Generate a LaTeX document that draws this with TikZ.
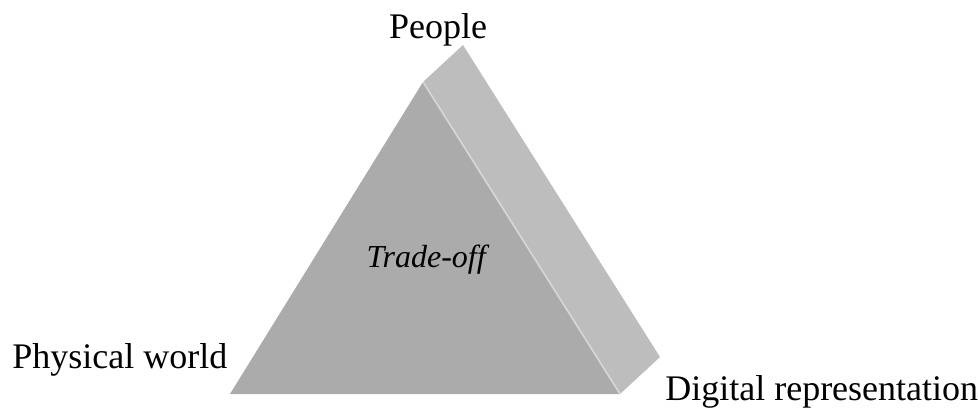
\documentclass[tikz,border=0pt]{standalone}
\usepackage{xcolor}
\usepackage{fontspec}
\setmainfont{Liberation Serif}
\usepackage{tikz}
\usetikzlibrary{positioning}
\definecolor{frontgray}{HTML}{ABABAB}
\definecolor{sidegray}{HTML}{BDBDBD}
\begin{document}
\begin{tikzpicture}[x=0.75pt,y=-0.75pt,every node/.style={inner sep=0pt,minimum size=0pt},
    lbl/.style={font=\fontsize{27}{31}\selectfont}]
    \path[fill=white,use as bounding box](0,0) rectangle (978,408);

    \coordinate(ft) at (423,82);
    \coordinate(fl) at (230,394);
    \coordinate(fr) at (620,394);
    \coordinate(bt) at (463,45);
    \coordinate(br) at (660,357);

    \path[fill=sidegray](ft) -- (bt) -- (br) -- (fr) -- cycle;
    \path[fill=frontgray](ft) -- (fl) -- (fr) -- cycle;
    \path[draw=white,opacity=0.45,line width=1.2pt](ft) -- (fr);

    \node(pl)[lbl,anchor=base] at (438,38) {People};
    \node(wl)[lbl,anchor=base west] at (12,368) {Physical world};
    \node(dl)[lbl,anchor=base west] at (665,400) {Digital representation};
    \node(tl)[lbl,anchor=base,font=\fontsize{24}{28}\selectfont] at (428,267) {\textit{Trade-off}};
\end{tikzpicture}
\end{document}
